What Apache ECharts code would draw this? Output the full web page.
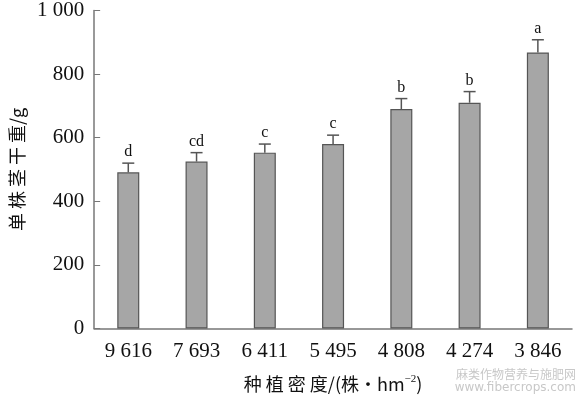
<!DOCTYPE html>
<html>
<head>
<meta charset="utf-8">
<script src="https://cdn.jsdelivr.net/npm/echarts@6/dist/echarts.min.js"></script>
<style>
html, body { margin: 0; padding: 0; background: #fff; }
#main { width: 580px; height: 398px; }
</style>
</head>
<body>
<div id="main"></div>
<script>
"use strict";

var categories = ['9 616', '7 693', '6 411', '5 495', '4 808', '4 274', '3 846'];
var stemWeight = [491, 525, 553, 580, 690, 710, 868];
var stdErr = [29, 28, 27, 28, 33, 35, 40];
var letters = ['d', 'cd', 'c', 'c', 'b', 'b', 'a'];

var serif = '"Liberation Serif", "DejaVu Serif", serif';
var cjk = '"Noto Sans CJK SC", sans-serif';

var chart = echarts.init(document.getElementById('main'));

var errData = categories.map(function (c, i) {
	return [i, stemWeight[i], stdErr[i], letters[i]];
});

var option = {
	animation: false,
	grid: {
		left: 91,
		right: 8,
		top: 10,
		bottom: 68
	},
	xAxis: {
		type: 'category',
		data: categories,
		name: '种 植 密 度/(株·hm{sup|−2})',
		nameLocation: 'middle',
		nameGap: 45,
		nameTextStyle: {
			fontFamily: cjk,
			fontSize: 18,
			color: '#111',
			rich: {
				sup: { fontFamily: serif, fontSize: 11, verticalAlign: 'top', padding: [0, 0, 10, 0], color: '#111' }
			}
		},
		axisLine: { lineStyle: { color: '#777', width: 1.5 } },
		axisTick: { inside: true, length: 5, lineStyle: { color: '#777' } },
		axisLabel: { fontFamily: serif, fontSize: 21, color: '#111', margin: 12 }
	},
	yAxis: {
		type: 'value',
		min: 0,
		max: 1000,
		interval: 200,
		name: '单 株 茎 干 重/g',
		nameLocation: 'middle',
		nameGap: 62,
		nameTextStyle: { fontFamily: cjk, fontSize: 18, color: '#111' },
		axisLine: { show: true, lineStyle: { color: '#777', width: 1.5 } },
		axisTick: { show: true, inside: true, length: 6, lineStyle: { color: '#777' } },
		axisLabel: {
			fontFamily: serif, fontSize: 21, color: '#111', margin: 10,
			formatter: function (v) { return v >= 1000 ? '1 000' : String(v); }
		},
		splitLine: { show: false }
	},
	series: [{
		type: 'bar',
		data: stemWeight,
		barWidth: 22,
		itemStyle: { color: '#a6a6a6', borderColor: '#555', borderWidth: 1.2 }
	}, {
		type: 'custom',
		data: errData,
		z: 5,
		renderItem: function (params, api) {
			var x = api.value(0);
			var top = api.coord([x, api.value(1) + api.value(2)]);
			var base = api.coord([x, api.value(1)]);
			var hw = 6;
			return {
				type: 'group',
				children: [{
					type: 'line',
					shape: { x1: top[0], y1: top[1], x2: base[0], y2: base[1] },
					style: { stroke: '#555', lineWidth: 1.5 }
				}, {
					type: 'line',
					shape: { x1: top[0] - hw, y1: top[1], x2: top[0] + hw, y2: top[1] },
					style: { stroke: '#555', lineWidth: 1.5 }
				}, {
					type: 'text',
					x: top[0],
					y: top[1] - 3,
					style: {
						text: letters[params.dataIndex],
						fontFamily: serif,
						fontSize: 16,
						fill: '#111',
						align: 'center',
						verticalAlign: 'bottom'
					}
				}]
			};
		}
	}],
	graphic: [{
		type: 'text',
		right: 4,
		bottom: 18,
		style: { text: '麻类作物营养与施肥网', fontFamily: cjk, fontSize: 12, fill: '#c8c8c8' }
	}, {
		type: 'text',
		right: 4,
		bottom: 4,
		style: { text: 'www.fibercrops.com', fontFamily: '"DejaVu Sans", sans-serif', fontSize: 12, fill: '#c8c8c8' }
	}]
};

chart.setOption(option);
window.addEventListener('resize', function () {
	chart.resize();
});
</script>
</body>
</html>
